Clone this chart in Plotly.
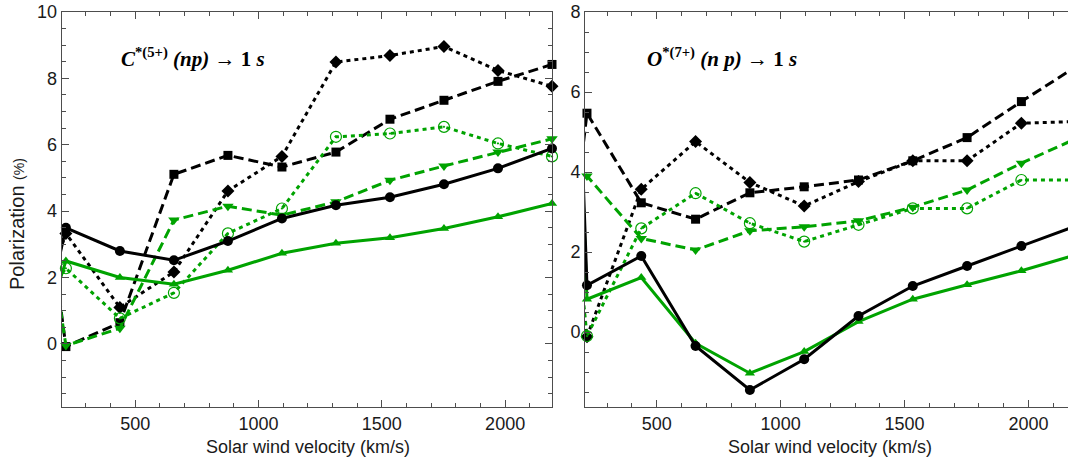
import plotly.graph_objects as go

# ---------------- data ----------------
velocity = [219, 438, 657, 876, 1095, 1314, 1533, 1752, 1971, 2190]
lead_velocity = 0  # preceding sample (outside the plotted range, only its line segment is visible)

# C*(5+) (np) -> 1s
c_black_solid = [3.50, 2.80, 2.52, 3.10, 3.78, 4.18, 4.42, 4.81, 5.29, 5.89]
c_green_solid = [2.50, 2.00, 1.80, 2.22, 2.73, 3.03, 3.20, 3.48, 3.83, 4.23]
c_black_dash = [-0.08, 0.64, 5.11, 5.68, 5.33, 5.78, 6.77, 7.34, 7.91, 8.42]
c_black_dot = [3.33, 1.10, 2.17, 4.61, 5.65, 8.49, 8.69, 8.96, 8.24, 7.76]
c_green_dash = [-0.05, 0.47, 3.73, 4.15, 3.88, 4.28, 4.93, 5.36, 5.78, 6.18]
c_green_dot = [2.28, 0.77, 1.54, 3.33, 4.08, 6.24, 6.34, 6.54, 6.04, 5.65]
c_lead = {"black_solid": -3.84, "green_solid": -2.65, "black_dash": 12.16,
          "black_dot": -1.56, "green_dash": 10.9, "green_dot": -0.04}

# O*(7+) (n p) -> 1s
o_black_solid = [1.17, 1.90, -0.35, -1.45, -0.68, 0.40, 1.15, 1.65, 2.15, 2.65]
o_green_solid = [0.82, 1.36, -0.28, -1.03, -0.49, 0.26, 0.82, 1.18, 1.53, 1.93]
o_black_dash = [5.47, 3.23, 2.82, 3.48, 3.63, 3.80, 4.28, 4.86, 5.76, 6.63]
o_black_dot = [-0.12, 3.57, 4.76, 3.74, 3.15, 3.76, 4.28, 4.28, 5.22, 5.26]
o_green_dash = [3.90, 2.34, 2.05, 2.53, 2.63, 2.78, 3.12, 3.55, 4.22, 4.83]
o_green_dot = [-0.10, 2.59, 3.47, 2.72, 2.26, 2.68, 3.09, 3.09, 3.80, 3.80]
o_lead = {"black_solid": 39.0, "green_solid": 36.7, "black_dash": -6.04,
          "black_dot": 11.4, "green_dash": 1.16, "green_dot": 13.6}

x_ticks = [500, 1000, 1500, 2000]
c_y_ticks = [0, 2, 4, 6, 8, 10]
o_y_ticks = [0, 2, 4, 6, 8]

# ---------------- styles ----------------
BLACK = "#000000"
GREEN = "#00a300"
FRAME = "#4d4d4d"
DASH = "10px,5px"
DOT = "4px,4px"

styles = {
    "black_solid": dict(color=BLACK, dash="solid", symbol="circle", size=10),
    "green_solid": dict(color=GREEN, dash="solid", symbol="triangle-up", size=9),
    "black_dash": dict(color=BLACK, dash=DASH, symbol="square", size=9),
    "black_dot": dict(color=BLACK, dash=DOT, symbol="diamond", size=10),
    "green_dash": dict(color=GREEN, dash=DASH, symbol="triangle-down", size=10),
    "green_dot": dict(color=GREEN, dash=DOT, symbol="circle-open-dot", size=11),
}

panels = [
    ("x", "y", {"black_solid": c_black_solid, "green_solid": c_green_solid,
                "black_dash": c_black_dash, "black_dot": c_black_dot,
                "green_dash": c_green_dash, "green_dot": c_green_dot}, c_lead),
    ("x2", "y2", {"black_solid": o_black_solid, "green_solid": o_green_solid,
                  "black_dash": o_black_dash, "black_dot": o_black_dot,
                  "green_dash": o_green_dash, "green_dot": o_green_dot}, o_lead),
]

fig = go.Figure()
for xa, ya, series, lead in panels:
    for key in ["black_dot", "black_dash", "green_dot", "green_dash", "green_solid", "black_solid"]:
        st = styles[key]
        vals = series[key]
        fig.add_trace(go.Scatter(
            x=[lead_velocity] + velocity, y=[lead[key]] + vals, xaxis=xa, yaxis=ya,
            mode="lines", line=dict(color=st["color"], width=3, dash=st["dash"]),
            showlegend=False, cliponaxis=True, hoverinfo="skip"))
        marker = dict(symbol=st["symbol"], size=st["size"], color=st["color"])
        if st["symbol"] == "circle-open-dot":
            marker["line"] = dict(width=1.2, color=st["color"])
        fig.add_trace(go.Scatter(
            x=velocity, y=vals, xaxis=xa, yaxis=ya, mode="markers",
            marker=marker, showlegend=False, cliponaxis=False))

tick_font = dict(family="Liberation Sans, Arial, sans-serif", size=18, color="#1a1a1a")
common_x = dict(showline=True, linecolor=FRAME, linewidth=1, ticks="inside", ticklen=7,
                tickcolor=FRAME, tickwidth=1, tickvals=x_ticks, tickfont=tick_font,
                showgrid=False, zeroline=False, automargin=False,
                minor=dict(ticks="inside", ticklen=4, dtick=100, tick0=0, tickcolor=FRAME, showgrid=False))
common_y = dict(showline=True, linecolor=FRAME, linewidth=1, ticks="inside", ticklen=7,
                tickcolor=FRAME, tickwidth=1, tickfont=tick_font,
                showgrid=False, zeroline=False, automargin=False,
                minor=dict(ticks="inside", ticklen=4, dtick=0.5, tick0=0, tickcolor=FRAME, showgrid=False))

fig.update_layout(
    width=1068, height=458,
    margin=dict(l=0, r=0, t=12, b=51, autoexpand=False),
    paper_bgcolor="white", plot_bgcolor="white",
    xaxis=dict(domain=[0.05777, 0.51685], range=[202, 2190], anchor="y", mirror="ticks", **common_x),
    yaxis=dict(domain=[0, 1], range=[-1.9, 10], anchor="x", mirror="ticks", tickvals=c_y_ticks, **common_y),
    xaxis2=dict(domain=[0.54775, 1.0], range=[211, 2159], anchor="y2", mirror="ticks", **common_x),
    yaxis2=dict(domain=[0, 1], range=[-1.875, 8], anchor="x2", mirror=False, tickvals=o_y_ticks, **common_y),
)

title_font = dict(family="Liberation Sans, Arial, sans-serif", size=18, color="#1a1a1a")
label_font = dict(family="Liberation Serif, Times New Roman, serif", size=21, color="#000000")
fig.add_annotation(text="Solar wind velocity (km/s)", xref="paper", yref="paper",
                   x=308 / 1068, y=-0.101, showarrow=False, font=title_font,
                   xanchor="center", yanchor="middle")
fig.add_annotation(text="Solar wind velocity (km/s)", xref="paper", yref="paper",
                   x=830 / 1068, y=-0.101, showarrow=False, font=title_font,
                   xanchor="center", yanchor="middle")
fig.add_annotation(text="Polarization <span style='font-size:14px'>(%)</span>", xref="paper", yref="paper",
                   x=17 / 1068, y=(407 - 224) / 395, showarrow=False, textangle=-90,
                   font=dict(family="Liberation Sans, Arial, sans-serif", size=20, color="#1a1a1a"),
                   xanchor="center", yanchor="middle")
fig.add_annotation(text="<b><i>C</i><sup>*(5+)</sup> <i>(np)</i> → 1 <i>s</i></b>", xref="paper", yref="paper",
                   x=193 / 1068, y=(407 - 57) / 395, showarrow=False, font=label_font,
                   xanchor="center", yanchor="middle")
fig.add_annotation(text="<b><i>O</i><sup>*(7+)</sup> <i>(n p)</i> → 1 <i>s</i></b>", xref="paper", yref="paper",
                   x=722 / 1068, y=(407 - 57) / 395, showarrow=False, font=label_font,
                   xanchor="center", yanchor="middle")

fig.write_html("out.html", config={"displayModeBar": False},
               post_script="document.body.style.margin='0';document.body.style.padding='0';"
                           "document.documentElement.style.overflow='hidden';")
